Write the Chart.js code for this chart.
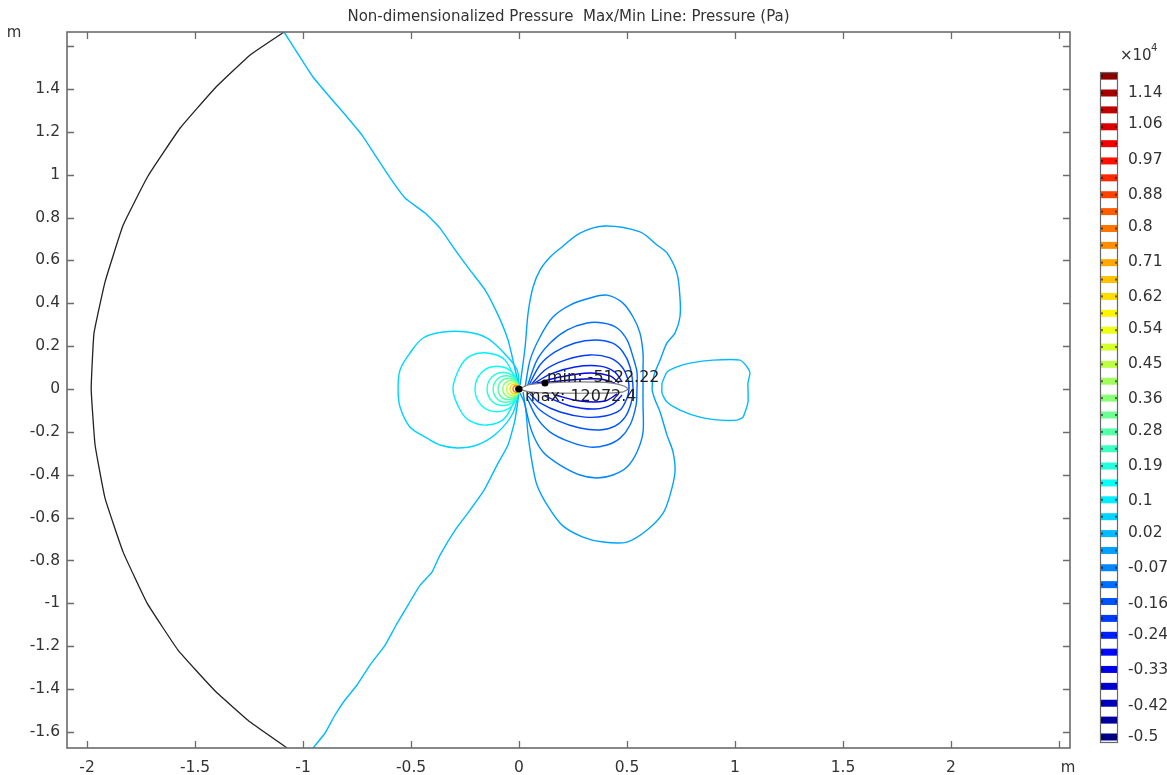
<!DOCTYPE html>
<html>
<head>
<meta charset="utf-8">
<script src="https://cdn.jsdelivr.net/npm/chart.js@4.4.1/dist/chart.umd.min.js"></script>
<style>
html,body{margin:0;padding:0;background:#fff;}
#wrap{position:relative;width:1167px;height:775px;}
canvas{position:absolute;left:0;top:0;}
#bar{pointer-events:none;}
</style>
</head>
<body>
<div id="wrap">
<canvas id="plot" width="1167" height="775"></canvas>
<canvas id="bar" width="1167" height="775"></canvas>
</div>
<script>
// axis ticks
const xTicks = [-2,-1.5,-1,-0.5,0,0.5,1,1.5,2,2.5];
const yTicks = [-1.6,-1.4,-1.2,-1,-0.8,-0.6,-0.4,-0.2,0,0.2,0.4,0.6,0.8,1,1.2,1.4,1.6];

// colour legend (x10^4 Pa)
const pMin = -0.512222, pMax = 1.20724;
const cbLevels = [1.183,1.140,1.097,1.054,1.011,0.967,0.924,0.881,0.838,0.795,0.752,0.708,0.665,0.622,0.579,0.536,0.493,0.449,0.406,0.363,
  0.320,0.277,0.234,0.190,0.147,0.104,0.061,0.018,-0.025,-0.069,-0.112,-0.155,-0.198,-0.241,-0.284,-0.328,-0.371,-0.414,-0.457,-0.500];
const cbTickValues = [1.14,1.06,0.97,0.88,0.8,0.71,0.62,0.54,0.45,0.36,0.28,0.19,0.1,0.02,-0.07,-0.16,-0.24,-0.33,-0.42,-0.5];
const cbTickLabels = ["1.14","1.06","0.97","0.88","0.8","0.71","0.62","0.54","0.45","0.36","0.28","0.19","0.1","0.02","-0.07","-0.16","-0.24","-0.33","-0.42","-0.5"];

// outer boundary (black)
const boundary = [[-1.088,1.666],[-1.245,1.559],[-1.407,1.405],[-1.569,1.218],[-1.718,0.994],[-1.833,0.765],[-1.917,0.499],[-1.968,0.261],[-1.981,0],
  [-1.963,-0.261],[-1.917,-0.509],[-1.833,-0.761],[-1.722,-0.999],[-1.579,-1.218],[-1.407,-1.409],[-1.245,-1.554],[-1.074,-1.675]];

// contour through the stagnation point
const zeroLine = [[-1.088,1.666],[-0.954,1.456],[-0.796,1.269],[-0.727,1.185],[-0.667,1.092],[-0.597,0.985],[-0.528,0.891],[-0.435,0.821],[-0.366,0.751],
  [-0.296,0.649],[-0.227,0.555],[-0.157,0.462],[-0.097,0.345],[-0.051,0.229],[-0.023,0.112],[0,0],[-0.019,-0.145],[-0.051,-0.261],[-0.102,-0.355],
  [-0.162,-0.472],[-0.227,-0.565],[-0.296,-0.658],[-0.366,-0.775],[-0.403,-0.854],[-0.458,-0.915],[-0.514,-1.008],[-0.569,-1.101],[-0.620,-1.195],
  [-0.690,-1.288],[-0.750,-1.381],[-0.806,-1.451],[-0.852,-1.521],[-0.898,-1.605],[-0.954,-1.675]];
const zeroLevel = 0.018;

// closed loop behind the body
const wakeLoop = [[0.662,0.028],[0.685,0.079],[0.731,0.103],[0.792,0.121],[0.898,0.135],[1.023,0.135],[1.056,0.103],[1.069,0.075],[1.060,0.028],
  [1.060,-0.061],[1.037,-0.131],[1.009,-0.145],[0.931,-0.145],[0.838,-0.131],[0.745,-0.098],[0.685,-0.061],[0.662,-0.019],[0.662,0.028]];
const wakeLevel = 0.018;

// positive rings ahead of the leading edge
const leftRings = [
  [[0,0],[-0.009,0.089],[-0.074,0.173],[-0.148,0.238],[-0.241,0.266],[-0.352,0.266],[-0.444,0.238],[-0.505,0.168],[-0.551,0.089],[-0.560,0],
   [-0.551,-0.084],[-0.505,-0.177],[-0.426,-0.229],[-0.366,-0.261],[-0.287,-0.275],[-0.194,-0.261],[-0.102,-0.205],[-0.028,-0.112],[0,0]],
  [[0,0],[-0.065,0.135],[-0.148,0.168],[-0.227,0.154],[-0.273,0.103],[-0.306,0],[-0.273,-0.098],[-0.227,-0.149],[-0.148,-0.168],[-0.065,-0.135],[0,0]],
  [[0,0.008],[-0.03,0.077],[-0.102,0.106],[-0.174,0.077],[-0.204,0],[-0.174,-0.077],[-0.102,-0.106],[-0.03,-0.077],[0,-0.008]],
  [[0,0.006],[-0.022,0.056],[-0.074,0.077],[-0.126,0.056],[-0.148,0],[-0.126,-0.056],[-0.074,-0.077],[-0.022,-0.056],[0,-0.006]],
  [[0,0.005],[-0.018,0.045],[-0.06,0.062],[-0.102,0.045],[-0.12,0],[-0.102,-0.045],[-0.06,-0.062],[-0.018,-0.045],[0,-0.005]],
  [[0,0.004],[-0.014,0.036],[-0.049,0.05],[-0.083,0.036],[-0.097,0],[-0.083,-0.036],[-0.049,-0.05],[-0.014,-0.036],[0,-0.004]],
  [[0,0.003],[-0.011,0.028],[-0.038,0.04],[-0.065,0.028],[-0.076,0],[-0.065,-0.028],[-0.038,-0.04],[-0.011,-0.028],[0,-0.003]],
  [[0,0.003],[-0.009,0.022],[-0.029,0.03],[-0.049,0.022],[-0.058,0],[-0.049,-0.022],[-0.029,-0.03],[-0.009,-0.022],[0,-0.003]],
  [[0,0.002],[-0.006,0.016],[-0.021,0.022],[-0.036,0.016],[-0.042,0],[-0.036,-0.016],[-0.021,-0.022],[-0.006,-0.016],[0,-0.002]],
  [[0,0.001],[-0.004,0.011],[-0.014,0.015],[-0.024,0.011],[-0.028,0],[-0.024,-0.011],[-0.014,-0.015],[-0.004,-0.011],[0,-0.001]],
  [[0.002,0],[-0.002,0.007],[-0.008,0.009],[-0.014,0.006],[-0.016,0],[-0.014,-0.006],[-0.008,-0.009],[-0.002,-0.007],[0.002,0]]
];
const ringLevels = [0.061,0.104,0.147,0.190,0.234,0.277,0.363,0.449,0.622,0.795,1.011];

// suction lobes over and under the body
const lobes = [
  [[0.005,0.019],[0.028,0.196],[0.042,0.355],[0.065,0.476],[0.097,0.555],[0.144,0.616],[0.199,0.663],[0.282,0.728],[0.398,0.761],[0.560,0.733],
   [0.639,0.672],[0.685,0.635],[0.731,0.541],[0.745,0.429],[0.745,0.336],[0.722,0.261],[0.685,0.215],[0.653,0.135],[0.625,0.065],[0.616,0],
   [0.630,-0.051],[0.653,-0.107],[0.685,-0.215],[0.713,-0.294],[0.722,-0.387],[0.699,-0.495],[0.667,-0.579],[0.593,-0.658],[0.500,-0.714],
   [0.389,-0.714],[0.296,-0.691],[0.199,-0.635],[0.130,-0.541],[0.083,-0.448],[0.060,-0.341],[0.042,-0.215],[0.028,-0.075],[0.005,-0.019]],
  [[0.028,0.009],[0.051,0.135],[0.097,0.243],[0.157,0.336],[0.236,0.392],[0.329,0.425],[0.407,0.438],[0.481,0.401],[0.528,0.336],[0.560,0.261],
   [0.574,0.168],[0.574,0.089],[0.574,0],[0.574,-0.075],[0.574,-0.201],[0.546,-0.294],[0.500,-0.364],[0.435,-0.401],[0.361,-0.415],[0.282,-0.401],
   [0.190,-0.355],[0.111,-0.294],[0.060,-0.201],[0.028,-0.075],[0.019,-0.014]],
  [[0.037,0.009],[0.083,0.135],[0.144,0.215],[0.222,0.275],[0.315,0.308],[0.389,0.308],[0.454,0.285],[0.500,0.229],[0.528,0.149],[0.546,0.079],
   [0.546,0],[0.542,-0.075],[0.514,-0.168],[0.468,-0.229],[0.407,-0.261],[0.329,-0.271],[0.236,-0.247],[0.144,-0.201],[0.083,-0.135],[0.037,-0.042]],
  [[0.042,0.009],[0.097,0.112],[0.167,0.173],[0.259,0.215],[0.352,0.229],[0.431,0.215],[0.481,0.173],[0.514,0.103],[0.528,0],[0.519,-0.065],
   [0.491,-0.131],[0.444,-0.173],[0.375,-0.191],[0.282,-0.182],[0.181,-0.149],[0.097,-0.098],[0.042,-0.033]],
  [[0.051,0.014],[0.120,0.089],[0.213,0.135],[0.329,0.159],[0.421,0.145],[0.477,0.103],[0.505,0.042],[0.509,0],[0.500,-0.042],[0.468,-0.098],
   [0.398,-0.126],[0.306,-0.131],[0.190,-0.107],[0.097,-0.065],[0.051,-0.023]],
  [[0.065,0.023],[0.144,0.070],[0.259,0.103],[0.375,0.107],[0.444,0.079],[0.477,0.033]],
  [[0.120,-0.033],[0.236,-0.079],[0.352,-0.093],[0.435,-0.070],[0.477,-0.028]],
  [[0.083,0.028],[0.190,0.056],[0.329,0.075],[0.421,0.061],[0.463,0.028]],
  [[0.167,-0.028],[0.282,-0.056],[0.398,-0.056],[0.454,-0.023]],
  [[0.106,0.028],[0.236,0.042],[0.375,0.047],[0.444,0.028]]
];
const lobeLevels = [-0.025,-0.069,-0.112,-0.155,-0.198,-0.241,-0.241,-0.328,-0.328,-0.414];

// body outline and extreme points
const body = [[0,0],[0.042,0.019],[0.120,0.028],[0.282,0.033],[0.431,0.028],[0.486,0.014],[0.505,0],[0.477,-0.014],[0.375,-0.019],[0.190,-0.019],[0.051,-0.014],[0,0]];
const minPoint = [0.12,0.028], minLabel = "min: -5122.22";
const maxPoint = [0,0], maxLabel = "max: 12072.4";

const FONT = "DejaVu Sans";
const pts = a => a.map(p => ({x:p[0], y:p[1]}));

function jet(v){
  const t = (v - pMin) / (pMax - pMin);
  const c = a => Math.round(255 * Math.max(0, Math.min(1, a)));
  return "rgb(" + c(Math.min(4*t-1.5, -4*t+4.5)) + "," + c(Math.min(4*t-0.5, -4*t+3.5)) + "," + c(Math.min(4*t+0.5, -4*t+2.5)) + ")";
}

function line(data, color, width, tension){
  return {data:pts(data), showLine:true, borderColor:color, borderWidth:width, pointRadius:0, tension:tension, fill:false};
}

const datasets = [];
datasets.push({data:pts([minPoint, maxPoint]), showLine:false, pointRadius:3.5, pointBackgroundColor:"#000", pointBorderWidth:0});
datasets.push({data:pts(body), showLine:true, borderColor:"#7a7a7a", borderWidth:1.2, pointRadius:0, fill:"shape", backgroundColor:"#fff", tension:0.2});
for(let i = leftRings.length-1; i >= 0; i--) datasets.push(line(leftRings[i], jet(ringLevels[i]), 1.4, 0.35));
for(let i = lobes.length-1; i >= 0; i--) datasets.push(line(lobes[i], jet(lobeLevels[i]), 1.4, 0.3));
datasets.push(line(zeroLine, jet(zeroLevel), 1.4, 0.15));
datasets.push(line(wakeLoop, jet(wakeLevel), 1.4, 0.2));
datasets.push(line(boundary, "#222", 1.3, 0.1));

const frame = {
  id:"frame",
  afterDraw(chart){
    const {ctx, chartArea:a, scales:{x, y}} = chart;
    ctx.save();
    ctx.strokeStyle = "#6b6b6b";
    ctx.lineWidth = 1.6;
    ctx.strokeRect(a.left, a.top, a.right-a.left, a.bottom-a.top);
    ctx.beginPath();
    xTicks.forEach(v => {
      const px = Math.round(x.getPixelForValue(v)) + 0.5;
      ctx.moveTo(px, a.bottom); ctx.lineTo(px, a.bottom-7);
      ctx.moveTo(px, a.top); ctx.lineTo(px, a.top+7);
    });
    yTicks.forEach(v => {
      const py = Math.round(y.getPixelForValue(v)) + 0.5;
      ctx.moveTo(a.left, py); ctx.lineTo(a.left+7, py);
      ctx.moveTo(a.right, py); ctx.lineTo(a.right-7, py);
    });
    ctx.lineWidth = 1.3;
    ctx.stroke();

    ctx.fillStyle = "#333";
    ctx.font = "15px '" + FONT + "'";
    ctx.textAlign = "center"; ctx.textBaseline = "middle";
    ctx.fillText("Non-dimensionalized Pressure  Max/Min Line: Pressure (Pa)", (a.left+a.right)/2, 17);
    ctx.fillText("m", 14, 33);
    ctx.fillText("m", a.right-2, 768);

    ctx.fillStyle = "#1e1e1e";
    ctx.font = "16px '" + FONT + "'";
    ctx.textAlign = "left";
    ctx.fillText(minLabel, x.getPixelForValue(minPoint[0])+2, y.getPixelForValue(minPoint[1])-5);
    ctx.fillText(maxLabel, x.getPixelForValue(maxPoint[0])+6, y.getPixelForValue(maxPoint[1])+8);
    ctx.restore();
  }
};

new Chart(document.getElementById("plot"), {
  type:"scatter",
  data:{datasets},
  options:{
    responsive:false, animation:false, devicePixelRatio:1,
    layout:{padding:{left:0, top:32, right:97, bottom:0}},
    plugins:{legend:{display:false}, tooltip:{enabled:false}},
    scales:{
      x:{type:"linear", min:-2.093, max:2.551,
        grid:{display:false, drawTicks:false}, border:{display:false},
        afterBuildTicks:s => { s.ticks = xTicks.map(v => ({value:v})); },
        afterFit:s => { s.height = 27; },
        ticks:{padding:11, color:"#333", font:{family:FONT, size:15.5}, maxRotation:0, autoSkip:false,
          callback:v => v === 2.5 ? "" : String(v)}},
      y:{type:"linear", min:-1.675, max:1.666,
        grid:{display:false, drawTicks:false}, border:{display:false},
        afterBuildTicks:s => { s.ticks = yTicks.map(v => ({value:v})); },
        afterFit:s => { s.width = 67; },
        ticks:{padding:7, color:"#333", font:{family:FONT, size:15.5}, autoSkip:false,
          callback:v => Math.abs(v - 1.6) < 1e-9 ? "" : String(+v.toFixed(1))}}
    }
  },
  plugins:[frame]
});

// colour legend
const barFrame = {
  id:"barFrame",
  afterDraw(chart){
    const {ctx, chartArea:a, scales:{y}} = chart;
    ctx.save();
    ctx.fillStyle = "rgba(0,0,0,0.55)";
    cbLevels.forEach(v => {
      const py = y.getPixelForValue(v);
      ctx.fillRect(a.left+1, py-1, 2, 2);
      ctx.fillRect(a.right-3, py-1, 2, 2);
    });
    ctx.strokeStyle = "#666";
    ctx.lineWidth = 1.2;
    ctx.strokeRect(a.left+0.5, a.top+0.5, a.right-a.left-1, a.bottom-a.top-1);
    ctx.fillStyle = "#333";
    ctx.textBaseline = "middle"; ctx.textAlign = "left";
    ctx.font = "15px '" + FONT + "'";
    ctx.fillText("\u00d710", a.right+2, 56);
    ctx.font = "10px '" + FONT + "'";
    ctx.fillText("4", a.right+33, 48);
    ctx.restore();
  }
};

new Chart(document.getElementById("bar"), {
  type:"scatter",
  data:{datasets:cbLevels.map(v => ({data:[{x:0, y:v}, {x:1, y:v}], showLine:true, borderColor:jet(v), borderWidth:7, pointRadius:0, borderCapStyle:"butt"}))},
  options:{
    responsive:false, animation:false, devicePixelRatio:1,
    layout:{padding:{left:1100, top:72, right:0, bottom:32}},
    plugins:{legend:{display:false}, tooltip:{enabled:false}},
    scales:{
      x:{type:"linear", min:0, max:1, display:false},
      y:{type:"linear", position:"right", min:-0.5153, max:1.1935,
        grid:{display:false, drawTicks:false}, border:{display:false},
        afterBuildTicks:s => { s.ticks = cbTickValues.map(v => ({value:v})); },
        afterFit:s => { s.width = 49; },
        ticks:{padding:10, color:"#333", font:{family:FONT, size:15.5}, autoSkip:false,
          callback:(v, i) => cbTickLabels[i]}}
    }
  },
  plugins:[barFrame]
});
</script>
</body>
</html>
